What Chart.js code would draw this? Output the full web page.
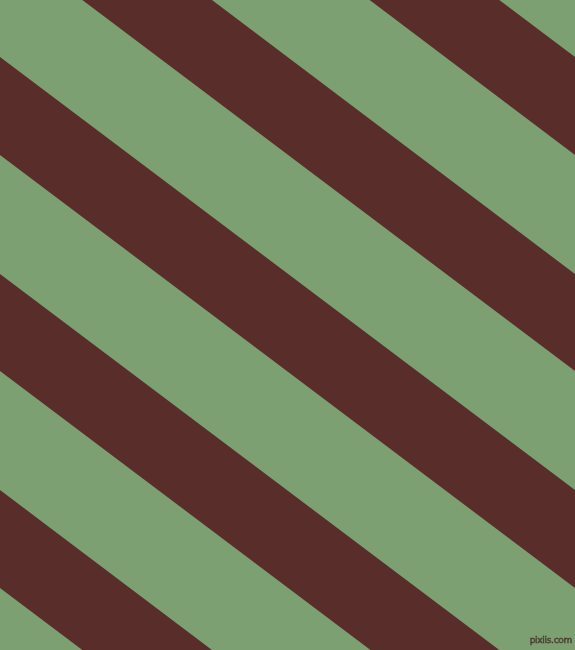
<!DOCTYPE html>
<html>
<head>
<meta charset="utf-8">
<script src="https://cdn.jsdelivr.net/npm/chart.js@4"></script>
<style>
  html, body { margin: 0; padding: 0; background: #7da072; }
  #wrap { position: relative; width: 575px; height: 650px; overflow: hidden; }
  canvas { display: block; background: #7da072; }
  #mark { position: absolute; right: 3px; top: 635px; font: 9px "DejaVu Sans", sans-serif; color: #6f6c50;
          -webkit-text-stroke: 0.5px #3d3626; letter-spacing: -0.3px; white-space: nowrap; line-height: 10px; }
</style>
</head>
<body>
<div id="wrap">
  <canvas id="c" width="575" height="650"></canvas>
  <div id="mark">pixiis.com</div>
</div>
<script>
// Stripe edges: y position of each edge at the left (x=0) and right (x=575) borders
const xEdges = [0, 575];
const stripeNames = ['Stripe 1', 'Stripe 2', 'Stripe 3', 'Stripe 4', 'Stripe 5'];
const upperLeft  = [-376, -160, 57, 274, 490];
const upperRight = [57, 274, 490, 707, 924];
const lowerLeft  = [-279, -62, 155, 371, 588];
const lowerRight = [155, 371, 588, 804, 1021];

const BROWN = '#582d2a';
const datasets = [];
stripeNames.forEach((name, i) => {
  datasets.push({
    label: name + ' upper',
    data: [{x: xEdges[0], y: upperLeft[i]}, {x: xEdges[1], y: upperRight[i]}],
    showLine: true, pointRadius: 0, borderWidth: 0, borderColor: 'rgba(0,0,0,0)', fill: false
  });
  datasets.push({
    label: name,
    data: [{x: xEdges[0], y: lowerLeft[i]}, {x: xEdges[1], y: lowerRight[i]}],
    showLine: true, pointRadius: 0, borderWidth: 0, borderColor: 'rgba(0,0,0,0)',
    backgroundColor: BROWN, fill: '-1'
  });
});

new Chart(document.getElementById('c'), {
  type: 'scatter',
  data: { datasets },
  options: {
    responsive: false,
    animation: false,
    layout: { padding: 0 },
    plugins: { legend: { display: false }, tooltip: { enabled: false }, title: { display: false } },
    scales: {
      x: { type: 'linear', min: 0, max: 575, display: false },
      y: { type: 'linear', min: 0, max: 650, reverse: true, display: false }
    }
  }
});
</script>
</body>
</html>
